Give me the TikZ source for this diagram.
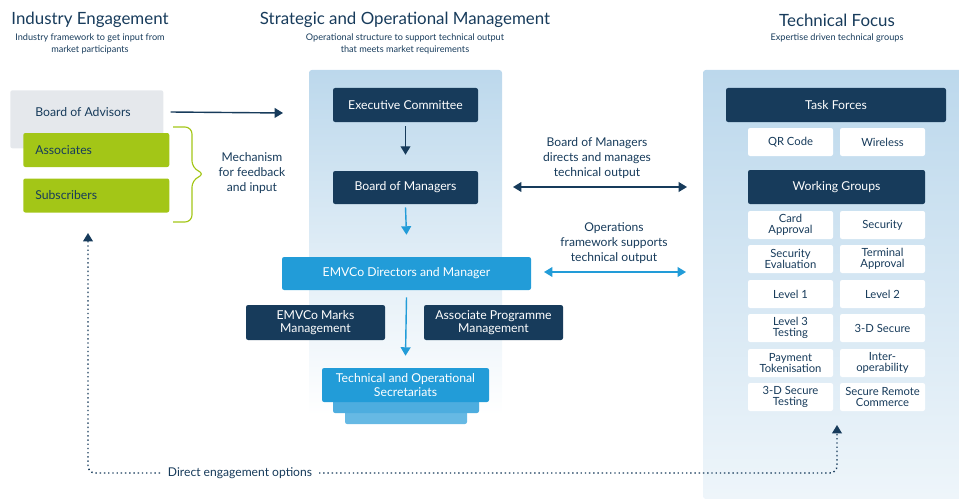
\documentclass[tikz,border=0pt]{standalone}
\usepackage{fontspec}
\setmainfont{Lato}
\usetikzlibrary{arrows.meta,positioning}
\definecolor{navy}{HTML}{173B5B}
\definecolor{skyblue}{HTML}{229CD8}
\definecolor{leaf}{HTML}{A3C617}
\definecolor{mist}{HTML}{E5E8EC}
\definecolor{panel}{HTML}{BCD8EC}
\definecolor{stacka}{HTML}{4DADDF}
\definecolor{stackb}{HTML}{66B9E4}
\tikzset{
  box/.style={rounded corners=1.5pt, align=center, inner sep=0pt, font=\fontsize{8.7}{9.4}\selectfont},
  navybox/.style={box, fill=navy, text=white},
  bluebox/.style={box, fill=skyblue, text=white},
  greenbox/.style={box, fill=leaf, text=navy, align=left, anchor=west},
  whitebox/.style={box, fill=white, text=navy, font=\fontsize{8}{7.6}\selectfont},
  headline/.style={text=navy, font=\fontsize{12}{14}\selectfont},
  subline/.style={text=navy, align=center, font=\fontsize{6.5}{8.4}\selectfont},
  note/.style={text=navy, align=center, font=\fontsize{8.6}{10.6}\selectfont},
  flow/.style={-{Triangle[length=6pt,width=7pt]}, line width=1pt},
}
\begin{document}
\begin{tikzpicture}[x=0.025cm, y=-0.025cm]
        % one unit = one pixel of the original
        \def\px{0.025cm}
        \useasboundingbox (0,0) rectangle (959,499);
        % Les titres
        \node[headline] (tind) at (90,20) {Industry Engagement};
        \node[subline] (sind) at (90,44) {Industry framework to get input from\\market participants};
        \node[headline] (tstr) at (405,20) {Strategic and Operational Management};
        \node[subline] (sstr) at (405,44) {Operational structure to support technical output\\that meets market requirements};
        \node[headline] (ttec) at (837,20) {Technical Focus};
        \node[subline] (stec) at (837,38) {Expertise driven technical groups};
        % Les panneaux
        \shade[top color=panel, bottom color=white, rounded corners=2pt] (309,70) rectangle (502,415);
        \shade[top color=panel, bottom color=panel!25, rounded corners=2pt] (703,70) rectangle (962,499);
        % Industry Engagement
        \node[box, fill=mist, anchor=north west, minimum width=153*\px, minimum height=58*\px] (advisors) at (10,90) {};
        \node[text=navy, anchor=west, inner xsep=0pt, font=\fontsize{8.7}{9.4}\selectfont] (advlabel) at (35,112) {Board of Advisors};
        \node[greenbox, text width=122*\px, inner xsep=12*\px, minimum height=34*\px] (associates) at (23,150) {Associates};
        \node[greenbox, text width=122*\px, inner xsep=12*\px, minimum height=34*\px] (subscribers) at (23,195.5) {Subscribers};
        \draw[leaf, line width=0.8pt, rounded corners=5pt] (173,127) -- (192,127) -- (192,168) -- (205,174) -- (192,180) -- (192,222) -- (173,222);
        \node[note] (mech) at (252,173) {Mechanism\\for feedback\\and input};
        \coordinate (panelin) at (283,113);
        \draw[flow, navy] ([xshift=7*\px]advisors.east |- advlabel) -- (panelin);
        % Strategic and Operational Management
        \node[navybox, minimum width=145*\px, minimum height=34*\px] (exec) at (405.5,105) {Executive Committee};
        \node[navybox, minimum width=145*\px, minimum height=33*\px] (board) at (405.5,187.5) {Board of Managers};
        \node[bluebox, minimum width=249*\px, minimum height=33*\px] (directors) at (406.5,273.5) {EMVCo Directors and Manager};
        \node[navybox, minimum width=139*\px, minimum height=35*\px] (marks) at (315.5,322.5) {EMVCo Marks\\Management};
        \node[navybox, minimum width=139*\px, minimum height=35*\px] (programme) at (493.5,322.5) {Associate Programme\\Management};
        % la pile sous les secretariats
        \fill[stackb, rounded corners=1.5pt] (345,405) rectangle (467,424);
        \fill[stacka, rounded corners=1.5pt] (333,395) rectangle (479,413);
        \node[bluebox, minimum width=167*\px, minimum height=34*\px] (secretariats) at (405.5,385) {Technical and Operational\\Secretariats};
        \draw[flow, navy] ([yshift=-4*\px]exec.south) -- ([yshift=16*\px]board.north);
        \draw[flow, skyblue] ([yshift=-3*\px]board.south) -- ([yshift=22*\px]directors.north);
        \draw[flow, skyblue] ([yshift=-7*\px]directors.south) -- ([yshift=12*\px]secretariats.north);
        % Les fleches vers Technical Focus
        \coordinate (bomleft) at (513,187);
        \coordinate (bomright) at (687,187);
        \coordinate (opsleft) at (544,272);
        \coordinate (opsright) at (686,272);
        \draw[flow, navy, {Triangle[length=6pt,width=7pt]}-{Triangle[length=6pt,width=7pt]}] (bomleft) -- (bomright);
        \draw[flow, skyblue, {Triangle[length=6pt,width=7pt]}-{Triangle[length=6pt,width=7pt]}] (opsleft) -- (opsright);
        \node[note] (bomnote) at (597,158) {Board of Managers\\directs and manages\\technical output};
        \node[note] (opsnote) at (614,243) {Operations\\framework supports\\technical output};
        % Technical Focus
        \node[navybox, minimum width=220*\px, minimum height=34*\px] (taskforces) at (836,105) {Task Forces};
        \node[whitebox, minimum width=85*\px, minimum height=28*\px] (qrcode) at (790.5,142) {QR Code};
        \node[whitebox, minimum width=85*\px, minimum height=28*\px] (wireless) at (882.5,142) {Wireless};
        \node[navybox, minimum width=177*\px, minimum height=34*\px] (working) at (836.5,187) {Working Groups};
        \node[whitebox, minimum width=85*\px, minimum height=28*\px] (card) at (790.5,225) {Card\\Approval};
        \node[whitebox, minimum width=85*\px, minimum height=28*\px] (security) at (882.5,225) {Security};
        \node[whitebox, minimum width=85*\px, minimum height=28*\px] (evaluation) at (790.5,259) {Security\\Evaluation};
        \node[whitebox, minimum width=85*\px, minimum height=28*\px] (terminal) at (882.5,259) {Terminal\\Approval};
        \node[whitebox, minimum width=85*\px, minimum height=28*\px] (levelone) at (790.5,294) {Level 1};
        \node[whitebox, minimum width=85*\px, minimum height=28*\px] (leveltwo) at (882.5,294) {Level 2};
        \node[whitebox, minimum width=85*\px, minimum height=28*\px] (levelthree) at (790.5,328) {Level 3\\Testing};
        \node[whitebox, minimum width=85*\px, minimum height=28*\px] (threeds) at (882.5,328) {3-D Secure};
        \node[whitebox, minimum width=85*\px, minimum height=28*\px] (token) at (790.5,363) {Payment\\Tokenisation};
        \node[whitebox, minimum width=85*\px, minimum height=28*\px] (interop) at (882.5,363) {Inter-\\operability};
        \node[whitebox, minimum width=85*\px, minimum height=28*\px] (threedstest) at (790.5,397) {3-D Secure\\Testing};
        \node[whitebox, minimum width=85*\px, minimum height=28*\px] (src) at (882.5,397) {Secure Remote\\Commerce};
        % Direct engagement options
        \coordinate (engleft) at (88,233);
        \coordinate (engright) at (837,425);
        \coordinate (engbottom) at (0,473);
        \draw[navy, line width=1pt, dotted, rounded corners=5pt, {Triangle[length=6pt,width=7pt]}-{Triangle[length=6pt,width=7pt]}] (engleft) -- (engleft |- engbottom) -- (engright |- engbottom) -- (engright);
        \node[note, fill=white, inner xsep=4pt] (engnote) at (240,473) {Direct engagement options};
    \end{tikzpicture}
\end{document}
